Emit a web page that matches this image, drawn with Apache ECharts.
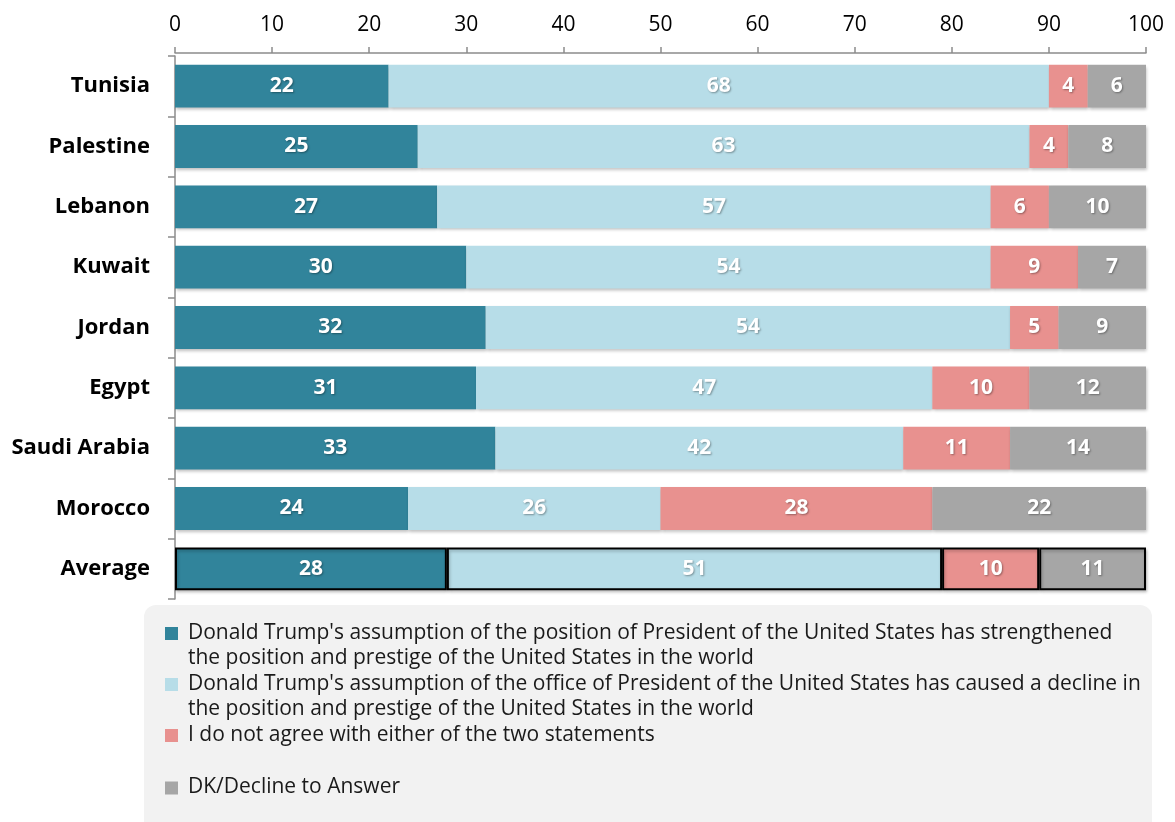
<!DOCTYPE html>
<html><head><meta charset="utf-8">
<script src="https://cdn.jsdelivr.net/npm/echarts@6/dist/echarts.min.js"></script>
<style>html,body{margin:0;padding:0;background:#fff}#c{width:1175px;height:822px}</style>
</head><body><div id="c"></div>
<script>
const categories = ['Tunisia','Palestine','Lebanon','Kuwait','Jordan','Egypt','Saudi Arabia','Morocco','Average'];
const seriesNames = [
  "Donald Trump's assumption of the position of President of the United States has strengthened\nthe position and prestige of the United States in the world",
  "Donald Trump's assumption of the office of President of the United States has caused a decline in\nthe position and prestige of the United States in the world",
  "I do not agree with either of the two statements",
  "DK/Decline to Answer"
];
const strengthened = [22,25,27,30,32,31,33,24,28];
const declined     = [68,63,57,54,54,47,42,26,51];
const neither      = [4,4,6,9,5,10,11,28,10];
const dk           = [6,8,10,7,9,12,14,22,11];
const xTicks = [0,10,20,30,40,50,60,70,80,90,100];

const colors = ['#31849B','#B7DDE8','#E8918F','#A6A6A6'];
const FONT = 'Open Sans';
const values = [strengthened, declined, neither, dk];

const series = values.map((arr, si) => ({
  name: seriesNames[si],
  type: 'bar',
  stack: 'total',
  barWidth: '71%',
  itemStyle: {color: colors[si], shadowColor:'rgba(0,0,0,0.25)', shadowBlur:3, shadowOffsetX:1, shadowOffsetY:2},
  label: {show:true, position:'inside', color:'#fff', fontFamily:FONT, fontWeight:'bold', fontSize:21,
          textShadowColor:'rgba(0,0,0,0.35)', textShadowBlur:2, textShadowOffsetX:1, textShadowOffsetY:1},
  data: arr.map((v, i) => categories[i] === 'Average'
     ? {value: v, itemStyle: {borderColor:'#000', borderWidth:2}}
     : v)
}));

// legend drawn as graphic
const legendLeft = 165, legendTop = 620;
const lineH = 25.5;
const graphic = [{type:'rect', left:144, top:605, shape:{width:1008, height:240, r:12}, style:{fill:'#F2F2F2'}, z:-1}];
let y = legendTop;
const gaps = [0, 0, 0, 27];
seriesNames.forEach((n, i) => {
  y += gaps[i];
  graphic.push({type:'rect', left:legendLeft, top:y+7, shape:{width:13, height:13}, style:{fill:colors[i]}});
  graphic.push({type:'text', left:legendLeft+23, top:y, style:{text:n, fill:'#1a1a1a', font:'21px "'+FONT+'"', lineHeight:lineH}});
  y += lineH * n.split('\n').length;
});

const chart = echarts.init(document.getElementById('c'));
chart.setOption({
  animation:false,
  grid:{left:175, right:29, top:56, bottom:223},
  xAxis:{type:'value', position:'top', min:0, max:100, interval:10, offset:3,
    axisLine:{show:true, lineStyle:{color:'#8c8c8c', width:1.5}},
    axisTick:{show:true, length:6, lineStyle:{color:'#8c8c8c', width:1.5}},
    splitLine:{show:false},
    axisLabel:{color:'#000', fontFamily:FONT, fontSize:21, margin:17,
      formatter: v => xTicks.includes(v) ? String(v) : ''}},
  yAxis:{type:'category', data:categories, inverse:true,
    axisLine:{show:true, lineStyle:{color:'#8c8c8c', width:1.5}},
    axisTick:{show:true, length:7, lineStyle:{color:'#8c8c8c', width:1.5}},
    axisLabel:{color:'#000', fontFamily:FONT, fontWeight:'bold', fontSize:22, margin:25}},
  series: series,
  graphic: graphic
});
</script></body></html>
